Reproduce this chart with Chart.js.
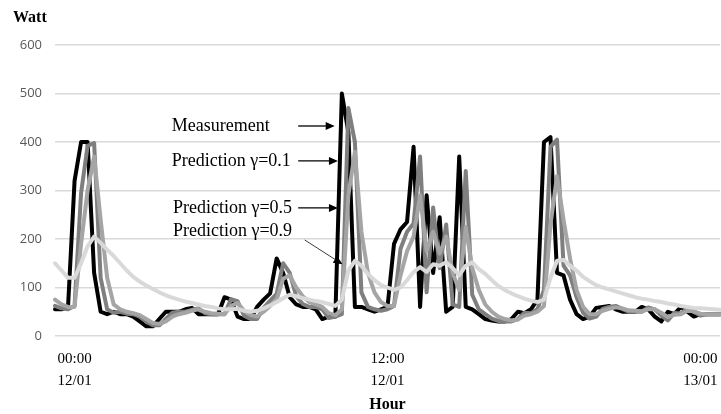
<!DOCTYPE html>
<html>
<head>
<meta charset="utf-8">
<script src="https://cdn.jsdelivr.net/npm/chart.js@4.4.1/dist/chart.umd.min.js"></script>
<style>
  html, body { margin: 0; padding: 0; background: #fff; }
  canvas { display: block; }
</style>
</head>
<body>
<canvas id="powerChart" width="721" height="414"></canvas>
<script>
// Data, one point every 15 min (23:15 11/01 .. 00:45 13/01)
const measurement = [
  55, 55, 60, 320, 400, 400, 130, 50, 45, 50,
  45, 45, 40, 30, 20, 20, 35, 50, 50, 50,
  55, 58, 45, 45, 45, 45, 80, 75, 40, 35,
  35, 60, 75, 88, 160, 130, 80, 65, 60, 60,
  55, 35, 40, 40, 500, 420, 60, 60, 55, 50,
  55, 60, 190, 220, 235, 390, 60, 290, 130, 245,
  50, 60, 370, 60, 55, 45, 35, 32, 30, 30,
  35, 50, 47, 55, 75, 400, 410, 130, 125, 75,
  45, 35, 40, 58, 60, 62, 55, 50, 50, 50,
  60, 55, 40, 30, 50, 45, 60, 50, 40, 45,
  45, 45, 45
];
const predGamma01 = [
  62, 57, 55, 62, 295, 392, 398, 120, 55, 48,
  50, 46, 45, 40, 30, 22, 22, 35, 48, 50,
  50, 54, 57, 47, 45, 45, 45, 76, 72, 42,
  35, 35, 58, 73, 87, 150, 130, 82, 66, 60,
  60, 55, 37, 40, 45, 470, 400, 90, 60, 55,
  52, 55, 62, 180, 215, 232, 370, 90, 265, 140,
  230, 65, 60, 340, 85, 55, 45, 36, 31, 30,
  30, 35, 48, 47, 55, 95, 390, 405, 145, 125,
  80, 48, 36, 40, 56, 60, 62, 56, 50, 50,
  50, 59, 55, 42, 32, 48, 46, 58, 50, 42,
  45, 45, 45
];
const predGamma05 = [
  75, 65, 60, 60, 190, 300, 370, 240, 120, 65,
  55, 50, 47, 43, 35, 27, 25, 30, 40, 45,
  48, 52, 55, 50, 47, 46, 45, 62, 68, 52,
  43, 40, 50, 62, 75, 118, 125, 100, 82, 70,
  65, 60, 47, 43, 55, 290, 380, 215, 130, 90,
  70, 62, 62, 125, 175, 205, 290, 175, 215, 170,
  205, 130, 95, 225, 140, 95, 65, 50, 40, 35,
  32, 34, 42, 45, 50, 62, 230, 330, 240, 160,
  95, 60, 45, 45, 52, 56, 59, 57, 53, 52,
  51, 55, 55, 48, 39, 44, 45, 52, 51, 46,
  45, 45, 45
];
const predGamma09 = [
  150, 135, 120, 120, 150, 185, 205, 192, 178, 165,
  150, 135, 122, 112, 104, 97, 90, 84, 79, 75,
  71, 68, 65, 62, 60, 57, 55, 55, 56, 52,
  50, 52, 57, 63, 70, 78, 85, 82, 78, 75,
  72, 70, 66, 62, 75, 135, 155, 145, 128, 115,
  105, 100, 95, 100, 115, 132, 142, 132, 148, 145,
  152, 140, 125, 145, 152, 138, 128, 115, 103, 95,
  88, 82, 77, 73, 70, 75, 120, 155, 157, 145,
  135, 122, 113, 105, 100, 96, 92, 88, 84, 80,
  77, 75, 72, 70, 67, 65, 62, 60, 58, 57,
  56, 55, 54
];

// x categories: 15 min steps starting 23:15 on 11/01
const startMinutes = 23 * 60 + 15;
const stepMinutes = 15;
const pad2 = n => String(n).padStart(2, '0');
const timeLabels = measurement.map((_, k) => {
  const t = startMinutes + k * stepMinutes;
  const day = 11 + Math.floor(t / 1440);
  const m = t % 1440;
  return pad2(Math.floor(m / 60)) + ':' + pad2(m % 60) + ' ' + day + '/01';
});
const shownTimes = ['00:00', '12:00'];

// text notes with arrows, placed in data coordinates (category index, Watt)
const notes = [
  { text: 'Measurement', at: [17.9, 433], from: [37.3, 433], to: [42.9, 433], thin: false },
  { text: 'Prediction \u03b3=0.1', at: [17.9, 361], from: [37.3, 361], to: [43.4, 361], thin: false },
  { text: 'Prediction \u03b3=0.5', at: [18.1, 264], from: [37.3, 264], to: [43.4, 264], thin: false },
  { text: 'Prediction \u03b3=0.9', at: [18.1, 216], from: [38.3, 198], to: [44.1, 148], thin: true }
];

const serif = '"Liberation Serif", "Times New Roman", serif';

function drawArrow(ctx, x0, y0, x1, y1, thin) {
  const ang = Math.atan2(y1 - y0, x1 - x0);
  const len = 9, half = 4;
  ctx.strokeStyle = thin ? '#3a3a3a' : '#000';
  ctx.lineWidth = thin ? 1 : 1.3;
  ctx.beginPath();
  ctx.moveTo(x0, y0);
  ctx.lineTo(x1 - Math.cos(ang) * len * 0.6, y1 - Math.sin(ang) * len * 0.6);
  ctx.stroke();
  ctx.fillStyle = '#000';
  ctx.beginPath();
  ctx.moveTo(x1, y1);
  ctx.lineTo(x1 - Math.cos(ang) * len - Math.sin(ang) * half, y1 - Math.sin(ang) * len + Math.cos(ang) * half);
  ctx.lineTo(x1 - Math.cos(ang) * len + Math.sin(ang) * half, y1 - Math.sin(ang) * len - Math.cos(ang) * half);
  ctx.closePath();
  ctx.fill();
}

const notesPlugin = {
  id: 'notes',
  afterDraw(chart) {
    const { ctx, chartArea } = chart;
    const xs = chart.scales.x, ys = chart.scales.y;
    ctx.save();
    ctx.font = '18px ' + serif;
    ctx.textBaseline = 'middle';
    ctx.textAlign = 'left';
    notes.forEach(n => {
      ctx.fillStyle = '#000';
      ctx.fillText(n.text, xs.getPixelForValue(n.at[0]), ys.getPixelForValue(n.at[1]));
      drawArrow(ctx,
        xs.getPixelForValue(n.from[0]), ys.getPixelForValue(n.from[1]),
        xs.getPixelForValue(n.to[0]), ys.getPixelForValue(n.to[1]), n.thin);
    });
    // axis titles
    ctx.fillStyle = '#000';
    ctx.font = 'bold 16px ' + serif;
    ctx.textAlign = 'left';
    ctx.fillText('Watt', 13, 18);
    ctx.textAlign = 'center';
    ctx.fillText('Hour', (chartArea.left + chartArea.right) / 2, 405);
    ctx.restore();
  }
};

const ctx = document.getElementById('powerChart').getContext('2d');
new Chart(ctx, {
  type: 'line',
  data: {
    labels: timeLabels,
    datasets: [
      { label: 'Measurement', data: measurement, borderColor: '#000000', order: 4 },
      { label: 'Prediction \u03b3=0.1', data: predGamma01, borderColor: '#7f7f7f', order: 3 },
      { label: 'Prediction \u03b3=0.5', data: predGamma05, borderColor: '#a5a5a5', order: 2 },
      { label: 'Prediction \u03b3=0.9', data: predGamma09, borderColor: '#d9d9d9', order: 1 }
    ]
  },
  options: {
    responsive: false,
    animation: false,
    layout: { padding: { top: 45, right: 1, left: 0, bottom: 0 } },
    elements: {
      point: { radius: 0 },
      line: { tension: 0, borderWidth: 4, borderJoinStyle: 'round', borderCapStyle: 'round', fill: false }
    },
    plugins: {
      legend: { display: false },
      tooltip: { enabled: false }
    },
    scales: {
      x: {
        type: 'category',
        offset: false,
        grid: { display: false },
        border: { display: false },
        ticks: {
          autoSkip: false,
          maxRotation: 0,
          minRotation: 0,
          padding: 4,
          color: '#000',
          font: { family: serif, size: 15, lineHeight: 1.45 },
          callback: function(value) {
            const lab = this.getLabelForValue(value);
            const parts = lab.split(' ');
            return shownTimes.includes(parts[0]) ? parts : '';
          }
        },
        afterFit(scale) {
          scale.height = 78;
          scale.paddingLeft = 0;
          scale.paddingRight = 0;
        }
      },
      y: {
        min: 0,
        max: 600,
        ticks: {
          stepSize: 100,
          padding: 13,
          color: '#595959',
          font: { family: '"Open Sans", sans-serif', size: 13 }
        },
        grid: { color: '#d9d9d9', lineWidth: 1.5, drawTicks: false },
        border: { display: false },
        afterFit(scale) { scale.width = 55; }
      }
    }
  },
  plugins: [notesPlugin]
});
</script>
</body>
</html>
